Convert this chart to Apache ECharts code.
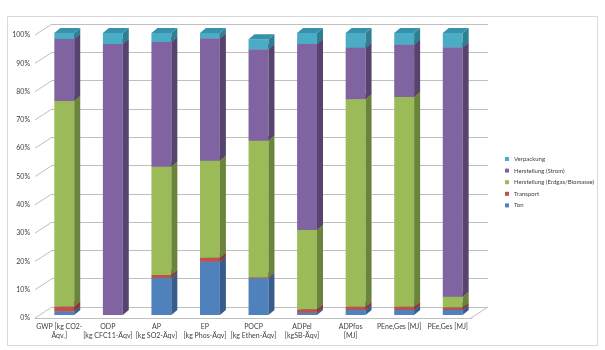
<!DOCTYPE html>
<html>
<head>
<meta charset="utf-8">
<title>Wirkungskategorien</title>
<script src="https://cdn.jsdelivr.net/npm/echarts@6/dist/echarts.min.js"></script>
<style>
  html, body { margin: 0; padding: 0; background: #fff; }
  #main { width: 605px; height: 350px; }
</style>
</head>
<body>
<div id="main"></div>
<script>
// categories (x axis)
var categories = ['GWP [kg CO2-\nÄqv.]', 'ODP\n[kg CFC11-Äqv]', 'AP\n[kg SO2-Äqv]', 'EP\n[kg Phos-Äqv]',
                  'POCP\n[kg Ethen-Äqv]', 'ADPel\n[kgSB-Äqv]', 'ADPfos\n[MJ]', 'PEne,Ges [MJ]', 'PEe,Ges [MJ]'];
// shares in %
var ton        = [1.2, 0,    13.1, 18.9, 13.0, 0.8,  1.8,  1.8,  1.8];
var transport  = [1.8, 0,    1.1,  1.4,  0.3,  1.2,  1.1,  1.1,  0.9];
var erdgas     = [72.9, 0,   38.4, 34.4, 48.5, 28.1, 73.6, 74.4, 3.8];
var strom      = [22.0, 96.1, 44.2, 43.4, 32.4, 66.0, 18.3, 18.6, 88.4];
var verpackung = [2.1, 3.9,  3.2,  1.9,  3.6,  3.9,  5.2,  4.1,  5.1];
var yTicks = [0, 10, 20, 30, 40, 50, 60, 70, 80, 90, 100];

var seriesDefs = [
  { name: 'Ton', values: ton, front: '#4f81bd', side: '#385d8a', top: '#3f6a9e' },
  { name: 'Transport', values: transport, front: '#c0504d', side: '#8c3836', top: '#a04240' },
  { name: 'Herstellung (Erdgas/Biomasse)', values: erdgas, front: '#9bbb59', side: '#6b843b', top: '#7d9a45' },
  { name: 'Herstellung (Strom)', values: strom, front: '#8064a2', side: '#58436f', top: '#634c80' },
  { name: 'Verpackung', values: verpackung, front: '#4bacc6', side: '#2f7f94', top: '#3592aa' }
];

var DX = 6, DY = 5;   // depth of the 3d bars
var WX = -17, WY = 11; // depth of the walls

var chart = echarts.init(document.getElementById('main'));

// stack the values
var base = categories.map(function () { return 0; });
var series = seriesDefs.map(function (def) {
  var data = def.values.map(function (v, i) {
    var lo = base[i];
    base[i] += v;
    return [i, lo, base[i]];
  });
  return {
    name: def.name,
    type: 'custom',
    xAxisIndex: 0,
    yAxisIndex: 0,
    itemStyle: { color: def.front },
    encode: { x: 0, y: [1, 2] },
    data: data,
    renderItem: function (params, api) {
      var c = api.value(0), lo = api.value(1), hi = api.value(2);
      if (hi - lo <= 0) return;
      var pLo = api.coord([c, lo]), pHi = api.coord([c, hi]);
      var w = api.size([1, 0])[0] * 0.41;
      var x0 = pLo[0] - w / 2, x1 = pLo[0] + w / 2, yb = pLo[1], yt = pHi[1];
      return {
        type: 'group',
        children: [
          { type: 'rect', shape: { x: x0, y: yt, width: w, height: yb - yt }, style: { fill: def.front } },
          { type: 'polygon', shape: { points: [[x1, yb], [x1 + DX, yb - DY], [x1 + DX, yt - DY], [x1, yt]] }, style: { fill: def.side } },
          { type: 'polygon', shape: { points: [[x0, yt], [x1, yt], [x1 + DX, yt - DY], [x0 + DX, yt - DY]] }, style: { fill: def.top } }
        ]
      };
    }
  };
});

// diagonal wall lines
series.unshift({
  name: 'walls',
  type: 'custom',
  xAxisIndex: 1,
  yAxisIndex: 1,
  silent: true,
  data: yTicks.map(function (v) { return [0, v]; }),
  renderItem: function (params, api) {
    var v = api.value(1);
    var p = api.coord([0, v]);
    var kids = [{ type: 'line', shape: { x1: p[0], y1: p[1], x2: p[0] + WX, y2: p[1] + WY }, style: { stroke: '#bfbfbf', lineWidth: 1 } }];
    if (v === 0) {
      var q = api.coord([1, 0]);
      kids.push({ type: 'line', shape: { x1: q[0], y1: q[1], x2: q[0] + WX, y2: q[1] + WY }, style: { stroke: '#bfbfbf', lineWidth: 1 } });
    }
    return { type: 'group', children: kids };
  }
});

var font = 'Lato, "Noto Sans", sans-serif';

chart.setOption({
  backgroundColor: '#fff',
  animation: false,
  graphic: [{
    type: 'rect', left: 5, top: 14, shape: { width: 590, height: 329 },
    style: { fill: 'none', stroke: '#d9d9d9', lineWidth: 1 }, silent: true
  }],
  legend: {
    data: ['Verpackung', 'Herstellung (Strom)', 'Herstellung (Erdgas/Biomasse)', 'Transport', 'Ton'],
    orient: 'vertical',
    left: 500,
    top: 151,
    itemWidth: 4,
    itemHeight: 4,
    itemGap: 5.6,
    icon: 'rect',
    selectedMode: false,
    textStyle: { fontSize: 6, color: '#404040', fontFamily: font }
  },
  grid: [
    { left: 40, right: 128, top: 33, bottom: 35 },   // bar fronts
    { left: 52, right: 117, top: 24, bottom: 43 },   // back wall
    { left: 35, right: 133, top: 35, bottom: 32 }    // front edge, labels
  ],
  xAxis: [
    { type: 'category', gridIndex: 0, data: categories, show: false },
    { type: 'value', gridIndex: 1, min: 0, max: 1, show: false },
    {
      type: 'category', gridIndex: 2, data: categories,
      axisLine: { lineStyle: { color: '#bfbfbf' } },
      axisTick: { length: 4, lineStyle: { color: '#bfbfbf' } },
      axisLabel: { fontSize: 7, lineHeight: 9, color: '#404040', margin: 4, fontFamily: font, interval: 0 }
    }
  ],
  yAxis: [
    { type: 'value', gridIndex: 0, min: 0, max: 100, show: false },
    {
      type: 'value', gridIndex: 1, min: 0, max: 100, interval: 10,
      axisLine: { show: false }, axisTick: { show: false }, axisLabel: { show: false },
      splitLine: { lineStyle: { color: '#bfbfbf' } }
    },
    {
      type: 'value', gridIndex: 2, min: 0, max: 100, interval: 10,
      axisLine: { show: false }, axisTick: { show: false }, splitLine: { show: false },
      axisLabel: { formatter: '{value}%', fontSize: 7, color: '#404040', margin: 5, fontFamily: font }
    }
  ],
  series: series
});
</script>
</body>
</html>
